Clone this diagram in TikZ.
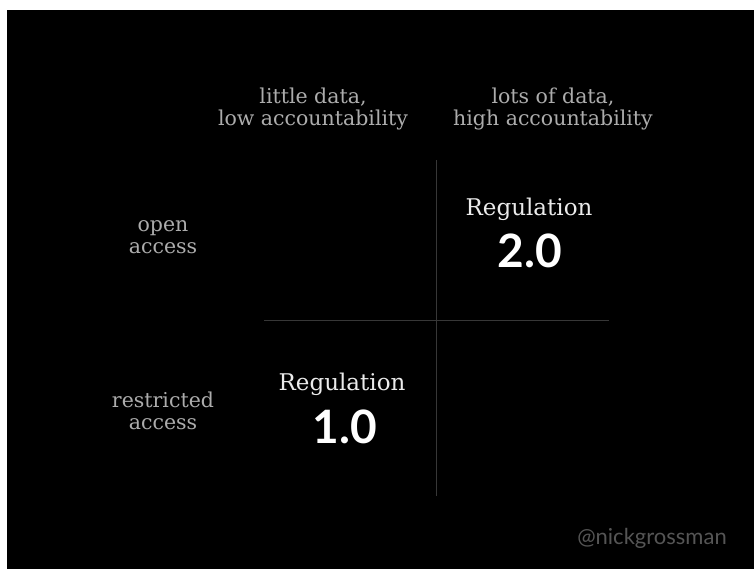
\documentclass[tikz,border=0pt]{standalone}
\usepackage{fontspec}
\setmainfont{DejaVu Serif}
\newfontfamily\numfont{Lato}
\newfontfamily\handlefont{Lato}
\definecolor{labelgray}{RGB}{172,172,172}
\definecolor{titlewhite}{RGB}{235,235,235}
\definecolor{gridgray}{RGB}{55,55,55}
\definecolor{handlegray}{RGB}{85,85,85}
\tikzset{
  axislabel/.style={text=labelgray, align=center, inner sep=0pt,
    font=\fontsize{20.5}{22}\selectfont},
  regtitle/.style={text=titlewhite, inner sep=0pt, font=\fontsize{23}{26}\selectfont},
  regnum/.style={text=white, inner sep=0pt, font=\numfont\bfseries\fontsize{46}{50}\selectfont},
  gridline/.style={draw=gridgray, line width=1pt}
}
\begin{document}
\begin{tikzpicture}[x=1pt,y=-1pt]
\useasboundingbox (0,0) rectangle (754,569);
\fill[white] (0,0) rectangle (754,569);
\fill[black] (7,10) rectangle (754,569);
% grid
\coordinate (vtop) at (436,160);
\coordinate (vbot) at (436,496);
\coordinate (hl) at (264,320);
\coordinate (hr) at (609,320);
\draw[gridline] (vtop) -- (vbot);
\draw[gridline] (hl) -- (hr);
% column labels
\node[axislabel] (c1) at (313,109) {little data,\\low accountability};
\node[axislabel] (c2) at (553,109) {lots of data,\\high accountability};
% row labels
\node[axislabel] (r1) at (163,237) {open\\access};
\node[axislabel] (r2) at (163,411) {restricted\\access};
% regulation labels
\node[regtitle] (t2) at (529,209) {Regulation};
\node[regnum] (n2) at (530,251) {2.0};
\node[regtitle] (t1) at (342,384) {Regulation};
\node[regnum] (n1) at (345,427) {1.0};
% handle
\node[text=handlegray, inner sep=0pt, font=\handlefont\fontsize{22}{24}\selectfont] (h) at (652,538) {@nickgrossman};
\end{tikzpicture}
\end{document}
